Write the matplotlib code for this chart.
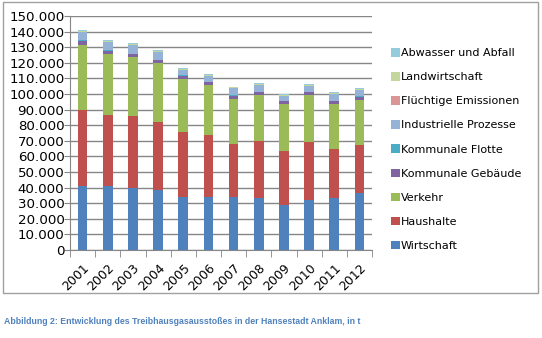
import matplotlib
matplotlib.use("Agg")
import matplotlib.pyplot as plt
from matplotlib.patches import Rectangle
from matplotlib.ticker import FuncFormatter, MultipleLocator

plt.rcParams['font.family'] = ['DejaVu Sans']

# Daten (t CO2-Äquivalent), von unten nach oben gestapelt
years = ['2001', '2002', '2003', '2004', '2005', '2006',
         '2007', '2008', '2009', '2010', '2011', '2012']
wirtschaft = [41200, 41200, 39900, 38700, 34000, 33800, 34000, 33600, 28800, 32000, 33300, 36800]
haushalte = [48500, 45300, 46000, 43300, 41600, 39900, 33900, 36000, 34700, 37300, 31400, 30700]
verkehr = [41900, 39100, 37800, 38000, 33800, 32100, 29100, 30000, 30300, 30200, 29100, 28800]
kom_gebaeude = [2600, 2100, 1900, 1900, 2400, 1700, 1900, 1700, 1700, 1500, 1700, 1900]
kom_flotte = [200, 200, 200, 200, 200, 200, 200, 200, 200, 200, 200, 200]
industrie = [5500, 5600, 5800, 5000, 3600, 4000, 4500, 4200, 3000, 4100, 4500, 4300]
fluechtig = [100, 100, 100, 100, 100, 100, 100, 100, 100, 100, 100, 100]
landwirtschaft = [600, 600, 600, 600, 600, 600, 600, 600, 600, 600, 600, 600]
abwasser = [400, 400, 400, 400, 400, 400, 400, 400, 400, 400, 400, 400]

series = [
    ('Wirtschaft', wirtschaft, '#4F81BD'),
    ('Haushalte', haushalte, '#C0504D'),
    ('Verkehr', verkehr, '#9BBB59'),
    ('Kommunale Gebäude', kom_gebaeude, '#8064A2'),
    ('Kommunale Flotte', kom_flotte, '#4BACC6'),
    ('Industrielle Prozesse', industrie, '#95B3D7'),
    ('Flüchtige Emissionen', fluechtig, '#D99694'),
    ('Landwirtschaft', landwirtschaft, '#C3D69B'),
    ('Abwasser und Abfall', abwasser, '#93CDDD'),
]

fig = plt.figure(figsize=(5.42, 3.38), dpi=100)
ax = fig.add_axes([70 / 542, 88 / 338, 302 / 542, 234 / 338])

x = list(range(len(years)))
bottom = [0] * len(years)
handles = []
for name, vals, col in series:
    b = ax.bar(x, vals, width=0.38, bottom=bottom, color=col, label=name, zorder=3)
    handles.append(b)
    bottom = [bo + v for bo, v in zip(bottom, vals)]

grid_col = '#868686'
ax.set_ylim(0, 150000)
ax.set_xlim(-0.5, len(years) - 0.5)
ax.yaxis.set_major_locator(MultipleLocator(10000))
ax.yaxis.set_major_formatter(FuncFormatter(lambda v, p: f'{int(v):,}'.replace(',', '.')))
ax.grid(axis='y', color=grid_col, linewidth=1, zorder=0)
ax.set_axisbelow(True)

for s in ['top', 'right']:
    ax.spines[s].set_visible(False)
for s in ['left', 'bottom']:
    ax.spines[s].set_color(grid_col)

ax.set_xticks(x)
ax.set_xticklabels(years, rotation=45, ha='right', rotation_mode='anchor')
ax.tick_params(axis='x', length=0, pad=8, labelsize=9)
ax.set_xticks([i - 0.5 for i in range(len(years) + 1)], minor=True)
ax.tick_params(axis='x', which='minor', length=5, color=grid_col)
ax.tick_params(axis='y', length=4, color=grid_col, labelsize=9.6, pad=0)

leg = fig.legend(handles[::-1], [s[0] for s in series][::-1],
                 loc='upper left', bbox_to_anchor=(391 / 542, 1 - 48 / 338),
                 frameon=False, fontsize=8, handlelength=0.8, handleheight=0.8,
                 handletextpad=0.1, labelspacing=1.26, borderaxespad=0, borderpad=0)

# Rahmen um das Diagramm
fig.patches.append(Rectangle((3 / 542, 1 - 293 / 338), 535 / 542, 291 / 338,
                             transform=fig.transFigure, fill=False,
                             edgecolor='#A0A0A0', linewidth=1))

fig.text(4 / 542, 1 - 322 / 338,
         'Abbildung 2: Entwicklung des Treibhausgasausstoßes in der Hansestadt Anklam, in t',
         family='Liberation Sans',
         fontsize=6.3, fontweight='bold', color='#4F81BD', va='center', ha='left')

fig.savefig('out.png', dpi=100, facecolor='white')
